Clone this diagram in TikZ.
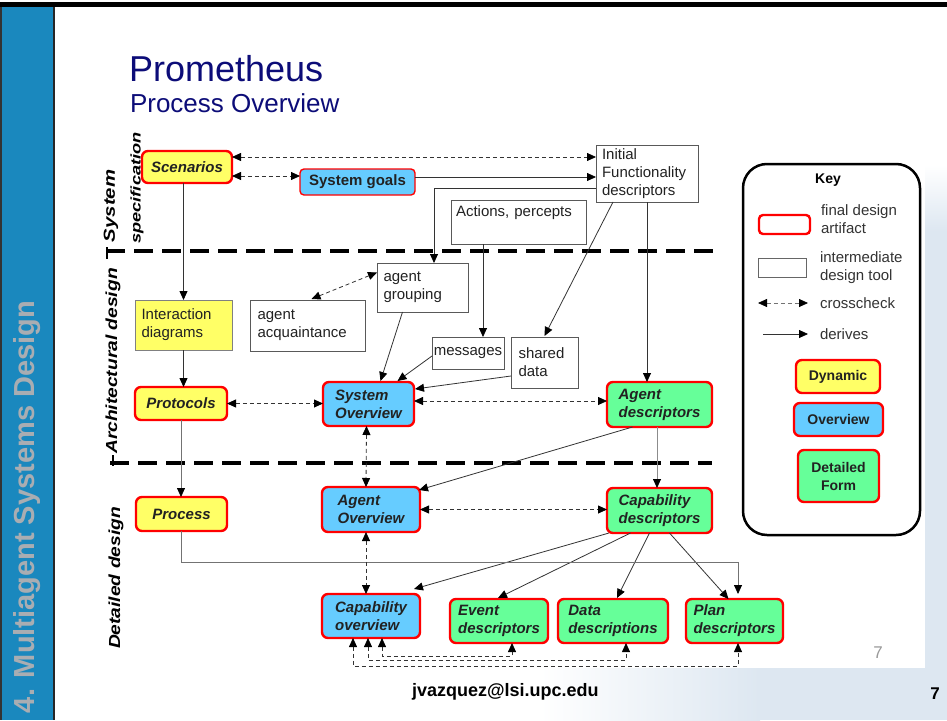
\documentclass[tikz,border=0pt]{standalone}
\usepackage{fontspec}
\usepackage{graphicx}
\setmainfont{Liberation Sans}
\usetikzlibrary{arrows.meta,calc}
\newcommand\myfs[2]{\fontsize{#1}{#2}\selectfont}
\definecolor{yelF}{HTML}{FFFF66}
\definecolor{bluF}{HTML}{66CCFF}
\definecolor{grnF}{HTML}{66FF99}
\definecolor{redB}{HTML}{FF0000}
\definecolor{barblue}{HTML}{1A88BE}
\definecolor{bartxt}{HTML}{A9ADB2}
\definecolor{navy}{RGB}{12,12,120}
\definecolor{wm}{HTML}{DDE7F1}
\definecolor{lnc}{HTML}{333333}
\definecolor{txtc}{HTML}{222222}
\begin{document}
\begin{tikzpicture}[x=1pt,y=-1pt,
  every node/.style={inner sep=0pt,outer sep=0pt,text=txtc},
  fin/.style={draw=redB,line width=2.4pt,rounded corners=6pt,align=left,
    font=\myfs{15}{18}\bfseries\itshape},
  yel/.style={fin,fill=yelF},
  blu/.style={fin,fill=bluF},
  grn/.style={fin,fill=grnF},
  tool/.style={draw=black!65,line width=0.9pt,fill=white,align=left,
    font=\myfs{15}{18}},
  lane/.style={rotate=90,text=black},
  der/.style={draw=lnc,line width=0.8pt,-{Triangle[length=9pt,width=8pt,color=black]}},
  cc/.style={draw=lnc,line width=0.8pt,dash pattern=on 4pt off 3pt,
    {Triangle[length=9pt,width=8pt,color=black]}-{Triangle[length=9pt,width=8pt,color=black]}},
  sep/.style={draw=black,line width=3.2pt,dash pattern=on 19pt off 9pt},
  keytxt/.style={align=left,anchor=west,font=\myfs{15}{18},text=black!80}
]
\useasboundingbox (0,0) rectangle (947,720);
\fill[white] (0,0) rectangle (947,720);
% watermark background
\fill[wm] (925,230) rectangle (947,668);
\shade[top color=white,bottom color=wm] (925,165) rectangle (947,231);
\shade[left color=white,right color=wm] (540,668) rectangle (760,720);
\fill[wm] (759,668) rectangle (947,720);
% frame and left bar
\fill[barblue] (0,7) rectangle (53,720);
\fill[black] (0,2) rectangle (947,7);
\draw[line width=2pt,black!85] (54,7) -- (54,720);
\draw[line width=1.5pt,black!80] (0.75,7) -- (0.75,720);
\node[rotate=90,font=\myfs{29}{32}\bfseries,text=bartxt] (bartitle) at (27,507) {4. Multiagent Systems Design};
% titles
\node[anchor=base west,font=\myfs{36}{40},text=navy] (title) at (129,81) {Prometheus};
\node[anchor=base west,font=\myfs{26}{30},text=navy] (subtitle) at (130,112) {Process Overview};
% footer
\node[anchor=base west,font=\myfs{18}{20}\bfseries,text=black] (mail) at (412,696) {jvazquez@lsi.upc.edu};
\node[anchor=base,font=\myfs{17}{20}\bfseries,text=black] (pnum) at (935,699) {7};
\node[anchor=base,font=\myfs{17}{20},text=black!40] (pnum2) at (878,658) {7};

% lane separators
\draw[sep] (106,251) -- (715,251);
\draw[sep] (110,463) -- (712,463);
\draw[line width=2.5pt,black] (107,247) -- (107,259);
\draw[line width=2.5pt,black] (113,455) -- (113,466);
% lane labels
\node[lane] (lsys) at (111,206) {\scalebox{1.27}[1]{\myfs{16}{18}\bfseries\itshape System}};
\node[lane] (lspec) at (137,188) {\scalebox{1.3}[1]{\myfs{14}{16}\bfseries\itshape specification}};
\node[lane] (larch) at (113,361) {\scalebox{1.2}[1]{\myfs{16}{18}\bfseries\itshape Architectural design}};
\node[lane] (ldet) at (116,578) {\scalebox{1.2}[1]{\myfs{16}{18}\bfseries\itshape Detailed design}};

% nodes: system specification
\node[yel,minimum width=90,minimum height=32] (scen) at (187,167) {Scenarios};
\node[draw=redB,line width=1.4pt,rounded corners=4pt,fill=bluF,minimum width=115,minimum height=26,
  font=\myfs{15}{18}\bfseries] (sg) at (357.5,182) {System goals};
\node[tool,minimum width=102,minimum height=57,text width=90] (init) at (647,173.5) {Initial\\Functionality\\descriptors};
\node[tool,minimum width=135,minimum height=44,text width=125] (act) at (518.5,222) {Actions, percepts\\[4pt]\mbox{}};
% architectural design
\node[tool,minimum width=91,minimum height=49,text width=78] (grp) at (422.5,287.5) {agent\\grouping};
\node[tool,minimum width=115,minimum height=51,text width=100] (acq) at (307.5,325.5) {agent\\acquaintance};
\node[tool,fill=yelF,draw=black!50,minimum width=97,minimum height=50,text width=84] (inter) at (183.5,325) {Interaction\\diagrams};
\node[yel,minimum width=92,minimum height=33] (prot) at (181,403.5) {Protocols};
\node[blu,minimum width=91,minimum height=44] (sysov) at (368.5,404) {System\\Overview};
\node[tool,minimum width=72,minimum height=32] (msg) at (468,353) {messages};
\node[tool,minimum width=67,minimum height=51,text width=52] (sh) at (544.5,362.5) {shared\\data};
\node[grn,minimum width=105,minimum height=45] (agd) at (659.5,404.5) {Agent\\descriptors};
% detailed design
\node[blu,minimum width=98,minimum height=45] (agov) at (371,509.5) {Agent\\Overview};
\node[grn,minimum width=105,minimum height=45] (capd) at (659.5,510.5) {Capability\\descriptors};
\node[yel,minimum width=91,minimum height=34] (proc) at (181.5,514) {Process};
\node[blu,minimum width=98,minimum height=44] (capov) at (371,616) {Capability\\overview};
\node[grn,minimum width=98,minimum height=44] (event) at (499,621) {Event\\descriptors};
\node[grn,minimum width=110,minimum height=44] (data) at (613,621) {Data\\descriptions};
\node[grn,minimum width=97,minimum height=44] (plan) at (734.5,621) {Plan\\descriptors};

% derives arrows
\coordinate (mtop) at ($(msg.north)+(15,0)$);
\draw[der] ($(sg.east)+(0,-5)$) -- ($(sg.east -| init.west)+(0,-5)$);
\draw[der] (scen.south -| inter.north) -- (inter.north);
\draw[der] (inter.south) -- (inter.south |- prot.north);
\draw[der,draw=black!55] (prot.south) -- (prot.south |- proc.north);
\draw[der] ($(init.west)+(0,14.5)$) -| ($(grp.north)+(11.5,0)$);
\draw[der] (mtop |- act.south) -- (mtop);
\draw[der] ($(init.south)+(-34,0)$) -- ($(sh.north)+(0,-1)$);
\draw[der] (init.south) -- (init.south |- agd.north);
\draw[der] ($(grp.south)+(-20,0)$) -- ($(sysov.north)+(12,-1)$);
\draw[der] ($(msg.west)+(0,3)$) -- ($(sysov.north)+(29,-1)$);
\draw[der] ($(sh.west)+(0,13.5)$) -- ($(sysov.east)+(1,-15)$);
\draw[der] ($(agd.south)+(-27,0)$) -- ($(agov.north east)+(-1,3)$);
\draw[der,draw=black!45] ($(agd.south)+(-2.5,0)$) -- ($(capd.north)+(-2.5,0)$);
\draw[der] ($(capd.south west)+(2,0)$) -- ($(capov.north east)+(-6,-5)$);
\draw[der] ($(capd.south)+(-29,0)$) -- ($(event.north)+(-1,-1)$);
\draw[der] ($(capd.south)+(-10,0)$) -- ($(data.north)+(4,-1)$);
\draw[der] ($(capd.south)+(10,0)$) -- ($(plan.north)+(-6,0)$);
\draw[der,draw=black!55] (proc.south) |- ($(plan.north)+(3.5,-37)$) -- ($(plan.north)+(3.5,-5)$);

% crosscheck arrows
\draw[cc] ($(scen.east)+(0,-10)$) -- ($(scen.east -| init.west)+(0,-10)$);
\draw[cc] ($(scen.east)+(0,9)$) -- ($(scen.east -| sg.west)+(0,9)$);
\draw[cc] ($(acq.north)+(4,-1)$) -- ($(grp.west)+(0,-15)$);
\draw[cc] (prot.east) -- (prot.east -| sysov.west);
\draw[cc] ($(sysov.east)+(0,-3)$) -- ($(sysov.east -| agd.west)+(0,-3)$);
\draw[cc] ($(sysov.south)+(-2,0)$) -- ($(agov.north)+(-5,0)$);
\draw[cc] (agov.east) -- (agov.east -| capd.west);
\draw[cc] ($(agov.south)+(-5,0)$) -- ($(capov.north)+(-5,0)$);
\draw[cc] ($(capov.south)+(11,0)$) |- ($(event.south)+(13,13)$) -- ($(event.south)+(13,0)$);
\draw[cc] ($(capov.south)+(-3,0)$) |- ($(data.south)+(13,17)$) -- ($(data.south)+(13,0)$);
\draw[cc] ($(capov.south)+(-18,0)$) |- ($(plan.south)+(3.5,23)$) -- ($(plan.south)+(3.5,0)$);

% key
\draw[line width=2.5pt,black,rounded corners=24pt] (743,164) rectangle (920,535);
\node[font=\myfs{14}{16}\bfseries,text=black] (keyt) at (828,180) {Key};
\node[draw=redB,line width=2.4pt,rounded corners=4pt,minimum width=51,minimum height=19] (kfin) at (784.5,224.5) {};
\node[keytxt] (kfint) at (821,219.5) {final design\\artifact};
\node[draw=black!60,line width=0.9pt,minimum width=48,minimum height=19] (kint) at (782,267.5) {};
\node[keytxt] (kintt) at (820,268) {intermediate\\design tool};
\coordinate (kc1) at (758,303);
\coordinate (kc2) at (808,303);
\draw[cc,draw=black!55] (kc1) -- (kc2);
\node[keytxt] (kcct) at (820,303) {crosscheck};
\coordinate (kd1) at (763,334);
\coordinate (kd2) at (808,334);
\draw[der] (kd1) -- (kd2);
\node[keytxt] (kdt) at (820,334) {derives};
\node[draw=redB,line width=2.4pt,rounded corners=6pt,fill=yelF,minimum width=84,minimum height=33,
  font=\myfs{14}{16}\bfseries] (kdyn) at (838,376.5) {Dynamic};
\node[draw=redB,line width=2.4pt,rounded corners=6pt,fill=bluF,minimum width=89,minimum height=33,
  font=\myfs{14}{16}\bfseries] (kov) at (838.5,419.5) {Overview};
\node[draw=redB,line width=2.4pt,rounded corners=6pt,fill=grnF,minimum width=81,minimum height=52,
  align=center,font=\myfs{14}{18}\bfseries] (kdf) at (838.5,476) {Detailed\\Form};
\end{tikzpicture}
\end{document}
